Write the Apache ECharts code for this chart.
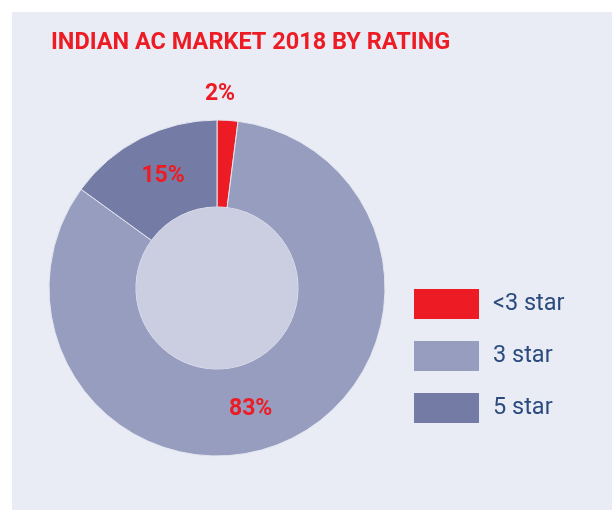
<!DOCTYPE html>
<html>
<head>
<meta charset="utf-8">
<script src="https://cdn.jsdelivr.net/npm/echarts@6/dist/echarts.min.js"></script>
<style>
  html, body { margin: 0; padding: 0; background: #ffffff; }
  .panel { position: absolute; left: 12px; top: 12px; width: 600px; height: 498px; background: #e9ecf4; }
  #chart { position: absolute; left: 0; top: 0; width: 612px; height: 510px; }
</style>
</head>
<body>
<div class="panel"></div>
<div id="chart"></div>
<script>
// shares by star rating
const categories = ['<3 star', '3 star', '5 star'];
const shares = [2, 83, 15];
const sliceColors = ['#ed1c24', '#979dbf', '#747ca6'];

const chart = echarts.init(document.getElementById('chart'));

chart.setOption({
  backgroundColor: 'transparent',
  title: {
    text: 'INDIAN AC MARKET 2018 BY RATING',
    left: 46,
    top: 26,
    textStyle: {
      color: '#ed1c24',
      fontFamily: 'Roboto',
      fontWeight: 'bold',
      fontSize: 23.5,
    },
  },
  legend: {
    orient: 'vertical',
    left: 414,
    top: 289,
    padding: 0,
    itemWidth: 65,
    itemHeight: 30,
    itemGap: 22,
    icon: 'rect',
    selectedMode: false,
    itemStyle: { borderWidth: 0 },
    data: categories,
    textStyle: {
      color: '#2b4a7e',
      fontFamily: 'Roboto',
      fontSize: 23.5,
      padding: [0, 0, 0, 9],
    },
  },
  series: [
    {
      type: 'pie',
      center: [217, 288],
      radius: [81, 168],
      startAngle: 90,
      clockwise: true,
      silent: true,
      itemStyle: {
        borderColor: '#e3e6f1',
        borderWidth: 1,
      },
      label: {
        show: true,
        position: 'inside',
        formatter: '{c}%',
        color: '#ed1c24',
        fontFamily: 'Roboto',
        fontWeight: 'bold',
        fontSize: 23,
      },
      labelLine: { show: false },
      labelLayout: function (params) {
        // nudge the small slice label above the ring
        if (params.dataIndex === 0) return { dx: -5, dy: -67 };
        if (params.dataIndex === 1) return { dx: -17, dy: 4 };
        return { dx: 4, dy: 2 };
      },
      data: categories.map((name, i) => ({
        name: name,
        value: shares[i],
        itemStyle: { color: sliceColors[i] },
      })),
    },
    {
      // the pale disc in the hole
      type: 'pie',
      center: [217, 288],
      radius: [0, 81],
      silent: true,
      label: { show: false },
      labelLine: { show: false },
      itemStyle: { color: '#cbcde0' },
      data: [{ name: 'hole', value: 1 }],
    },
  ],
});
</script>
</body>
</html>
